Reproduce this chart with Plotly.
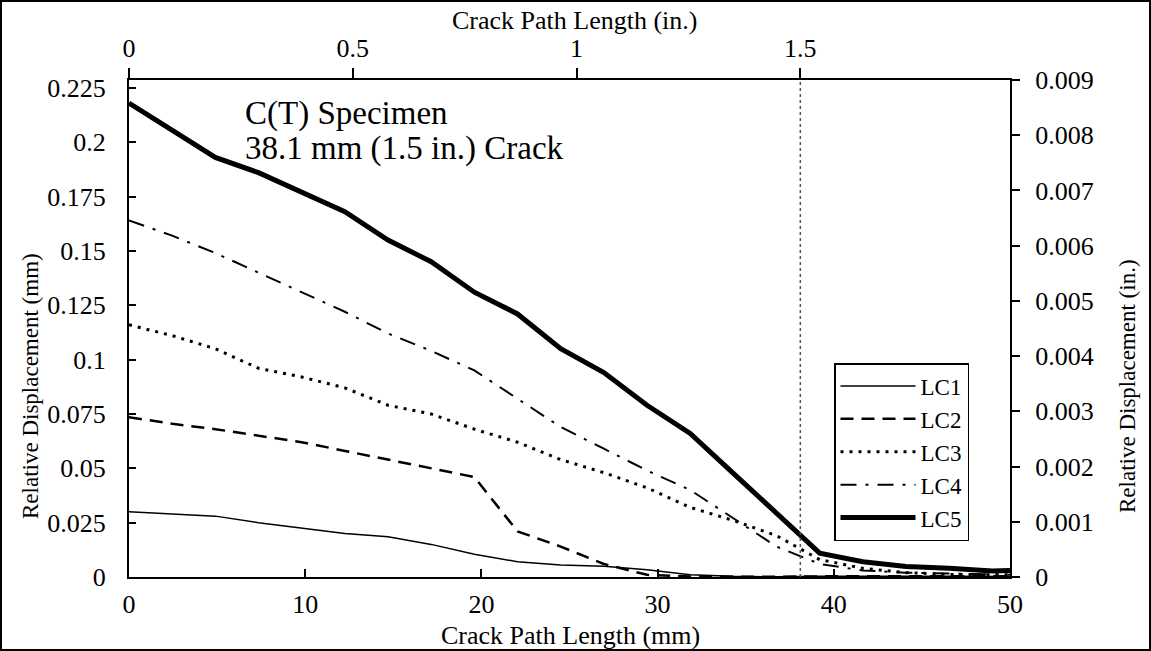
import plotly.graph_objects as go

# Crack path positions (mm) shared by all load cases
crack_mm = [0, 2.45, 4.9, 7.35, 9.8, 12.25, 14.7, 17.15, 19.6, 22.05, 24.5,
            26.95, 29.4, 31.85, 34.3, 36.75, 39.2, 41.65, 44.1, 46.55, 49.0, 50.0]

# Relative displacement (mm) for each load case
lc1 = [0.030, 0.029, 0.028, 0.025, 0.0225, 0.020, 0.0185, 0.015, 0.0105, 0.007, 0.0055,
       0.005, 0.0033, 0.001, 0.0003, 0.0001, 0.0003, 0.0005, 0.0004, 0.0003, 0.0002, 0.0002]
lc2 = [0.0735, 0.0705, 0.068, 0.065, 0.062, 0.058, 0.054, 0.050, 0.046, 0.021, 0.014,
       0.006, 0.001, 0.0002, 0.0001, 0.0001, 0.0003, 0.0005, 0.0004, 0.0003, 0.0003, 0.0003]
lc3 = [0.116, 0.111, 0.105, 0.096, 0.092, 0.087, 0.079, 0.075, 0.068, 0.062, 0.054,
       0.048, 0.041, 0.032, 0.026, 0.019, 0.008, 0.004, 0.002, 0.0012, 0.001, 0.001]
lc4 = [0.164, 0.157, 0.149, 0.140, 0.131, 0.122, 0.112, 0.104, 0.095, 0.082, 0.069,
       0.059, 0.049, 0.040, 0.027, 0.014, 0.006, 0.003, 0.002, 0.0015, 0.001, 0.001]
lc5 = [0.218, 0.2055, 0.193, 0.186, 0.177, 0.168, 0.155, 0.145, 0.131, 0.121, 0.105,
       0.094, 0.079, 0.066, 0.0477, 0.0293, 0.011, 0.007, 0.0048, 0.004, 0.0028, 0.003]

series_names = ["LC1", "LC2", "LC3", "LC4", "LC5"]
series_values = [lc1, lc2, lc3, lc4, lc5]

# Axis ticks
mm_ticks = [0, 10, 20, 30, 40, 50]
disp_mm_ticks = [0, 0.025, 0.05, 0.075, 0.1, 0.125, 0.15, 0.175, 0.2, 0.225]
disp_mm_text = ["0", "0.025", "0.05", "0.075", "0.1", "0.125", "0.15", "0.175", "0.2", "0.225"]
in_ticks = [0, 0.5, 1, 1.5]
in_text = ["0", "0.5", "1", "1.5"]
disp_in_ticks = [0, 0.001, 0.002, 0.003, 0.004, 0.005, 0.006, 0.007, 0.008, 0.009]
disp_in_text = ["0", "0.001", "0.002", "0.003", "0.004", "0.005", "0.006", "0.007", "0.008", "0.009"]

crack_length_in = 1.5
MM_PER_IN = 25.4

styles = [
    dict(width=1.5, dash="solid"),
    dict(width=2.5, dash="13px,8px"),
    dict(width=3, dash="3px,6px"),
    dict(width=2, dash="16px,9px,3px,9px"),
    dict(width=5, dash="solid"),
]

FONT = "Liberation Serif, Times New Roman, serif"

fig = go.Figure()
for name, vals, st in zip(series_names, series_values, styles):
    fig.add_trace(go.Scatter(
        x=crack_mm, y=vals, mode="lines", name=name,
        line=dict(color="black", width=st["width"], dash=st["dash"]),
        xaxis="x", yaxis="y",
    ))

# Crack tip marker drawn on the inch axes
fig.add_trace(go.Scatter(
    x=[crack_length_in, crack_length_in], y=[0, disp_in_ticks[-1]],
    mode="lines", showlegend=False, hoverinfo="skip",
    line=dict(color="#555555", width=1.5, dash="dot"),
    xaxis="x2", yaxis="y2",
))

L, R, T, B = 129, 141, 80, 74
W, H = 1151, 651
pw, ph = W - L - R, H - T - B

def px_x(p):
    return (p - L) / pw

def px_y(p):
    return (H - B - p) / ph

axis_common = dict(showgrid=False, zeroline=False, showline=True, linecolor="black",
                   linewidth=2, tickcolor="black", tickwidth=2,
                   tickfont=dict(family=FONT, size=26, color="black"))

fig.update_layout(
    width=W, height=H,
    margin=dict(l=L, r=R, t=T, b=B),
    paper_bgcolor="white", plot_bgcolor="white",
    font=dict(family=FONT, color="black"),
    xaxis=dict(range=[0, 50], tickvals=mm_ticks, ticks="inside", ticklen=8,
               ticklabelstandoff=3, **axis_common),
    yaxis=dict(range=[0, disp_in_ticks[-1] * MM_PER_IN], tickvals=disp_mm_ticks,
               ticktext=disp_mm_text, ticks="inside", ticklen=7,
               ticklabelstandoff=16, **axis_common),
    xaxis2=dict(range=[0, 50 / MM_PER_IN], tickvals=in_ticks, ticktext=in_text,
                overlaying="x", side="top", anchor="y2", ticks="outside", ticklen=10,
                ticklabelstandoff=1, **axis_common),
    yaxis2=dict(range=[0, disp_in_ticks[-1]], tickvals=disp_in_ticks, ticktext=disp_in_text,
                overlaying="y", side="right", anchor="x2", ticks="outside", ticklen=8,
                ticklabelstandoff=10, **axis_common),
    legend=dict(x=px_x(834), y=px_y(363), xanchor="left", yanchor="top",
                bgcolor="white", bordercolor="black", borderwidth=1.5,
                font=dict(family=FONT, size=23, color="black"), tracegroupgap=0,
                itemwidth=75),
    showlegend=True,
)

fig.add_annotation(text="Crack Path Length (mm)", x=px_x(570), y=px_y(635),
                   xref="paper", yref="paper", showarrow=False,
                   xanchor="center", yanchor="middle",
                   font=dict(family=FONT, size=26, color="black"))
fig.add_annotation(text="Crack Path Length (in.)", x=px_x(575), y=px_y(20),
                   xref="paper", yref="paper", showarrow=False,
                   xanchor="center", yanchor="middle",
                   font=dict(family=FONT, size=26, color="black"))

fig.add_annotation(text="Relative Displacement (mm)", x=px_x(30), y=px_y(386),
                   xref="paper", yref="paper", showarrow=False, textangle=-90,
                   xanchor="center", yanchor="middle",
                   font=dict(family=FONT, size=23, color="black"))
fig.add_annotation(text="Relative Displacement (in.)", x=px_x(1127), y=px_y(386),
                   xref="paper", yref="paper", showarrow=False, textangle=-90,
                   xanchor="center", yanchor="middle",
                   font=dict(family=FONT, size=23, color="black"))

fig.add_annotation(text="C(T) Specimen", x=px_x(243), y=px_y(113),
                   xref="paper", yref="paper", showarrow=False,
                   xanchor="left", yanchor="middle",
                   font=dict(family=FONT, size=33, color="black"))
fig.add_annotation(text="38.1 mm (1.5 in.) Crack", x=px_x(243), y=px_y(148),
                   xref="paper", yref="paper", showarrow=False,
                   xanchor="left", yanchor="middle",
                   font=dict(family=FONT, size=33, color="black"))

# Outer frame around the whole figure
fig.add_shape(type="rect", xref="paper", yref="paper",
              x0=px_x(1), x1=px_x(1150), y0=px_y(650), y1=px_y(1),
              line=dict(color="black", width=2))

fig.write_html("out.html")
